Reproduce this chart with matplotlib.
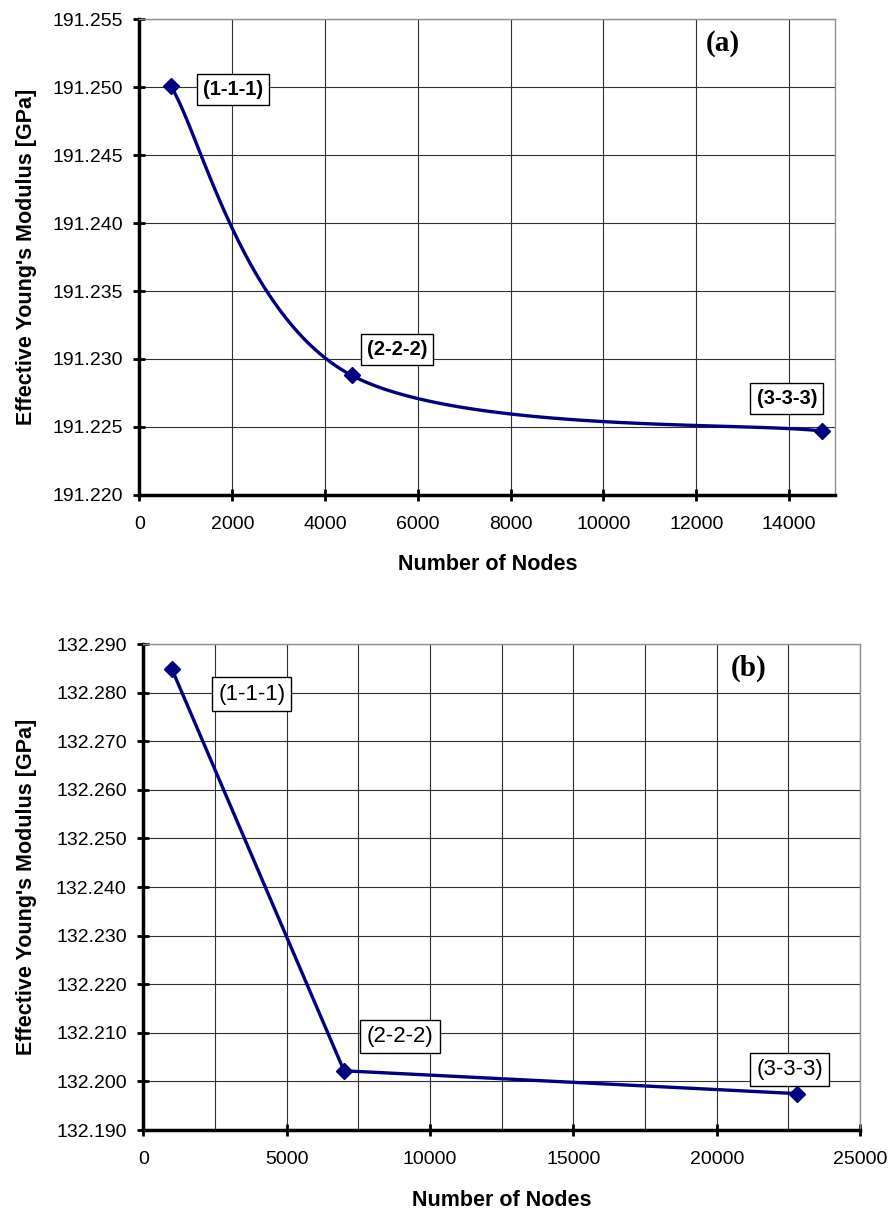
import numpy as np
import matplotlib
matplotlib.use('Agg')
import matplotlib.pyplot as plt
from matplotlib.ticker import MultipleLocator, FormatStrFormatter

plt.rcParams['font.family'] = ['Liberation Sans', 'DejaVu Sans']

# chart (a) data
nodes_a = [670, 4570, 14720]
E_a = [191.2501, 191.2288, 191.2247]
lab_a = ['(1-1-1)', '(2-2-2)', '(3-3-3)']
labpos_a = [(2010, 191.2498), (5550, 191.2307), (13950, 191.2271)]

# chart (b) data
nodes_b = [1000, 7000, 22800]
E_b = [132.2848, 132.2022, 132.1975]
lab_b = ['(1-1-1)', '(2-2-2)', '(3-3-3)']
labpos_b = [(3780, 132.2797), (8950, 132.2092), (22550, 132.2025)]

navy = '#000080'


def excel_smooth(x, y, n=60):
    # bezier smoothing like excel "smoothed line"
    P = np.column_stack([x, y]).astype(float)
    out = []
    for i in range(len(P) - 1):
        p0 = P[max(i - 1, 0)]
        p1 = P[i]
        p2 = P[i + 1]
        p3 = P[min(i + 2, len(P) - 1)]
        c1 = p1 + (p2 - p0) / 6.0
        c2 = p2 - (p3 - p1) / 6.0
        t = np.linspace(0, 1, n)[:, None]
        seg = ((1 - t) ** 3) * p1 + 3 * ((1 - t) ** 2) * t * c1 + 3 * (1 - t) * t ** 2 * c2 + t ** 3 * p2
        out.append(seg)
    out = np.vstack(out)
    return out[:, 0], out[:, 1]


def style_axes(ax):
    ax.grid(True, which='both', color='#303030', lw=0.8)
    ax.set_axisbelow(True)
    for s in ['top', 'right']:
        ax.spines[s].set_color('#909090')
        ax.spines[s].set_linewidth(1.0)
    for s in ['left', 'bottom']:
        ax.spines[s].set_color('black')
        ax.spines[s].set_linewidth(2.5)
    ax.tick_params(axis='both', which='major', direction='inout', length=8, width=2.0,
                   labelsize=14)
    ax.tick_params(axis='x', which='major', pad=11)
    ax.tick_params(axis='y', which='major', pad=8)
    ax.tick_params(axis='both', which='minor', length=0)


fig = plt.figure(figsize=(8.93, 12.12), dpi=100)

# ---------------- (a)
ax1 = fig.add_axes([0.1562, 0.5916, 0.7794, 0.3927])
xs, ys = excel_smooth(nodes_a, E_a)
ax1.plot(xs, ys, color=navy, lw=2.4, zorder=3)
ax1.plot(nodes_a, E_a, ls='none', marker='D', ms=8, color=navy, zorder=4)
ax1.set_xlim(0, 15000)
ax1.set_ylim(191.220, 191.255)
ax1.xaxis.set_major_locator(MultipleLocator(2000))
ax1.yaxis.set_major_locator(MultipleLocator(0.005))
ax1.yaxis.set_major_formatter(FormatStrFormatter('%.3f'))
style_axes(ax1)
for t, (px, py) in zip(lab_a, labpos_a):
    ax1.text(px, py, t, fontsize=14.5, fontweight='bold', ha='center', va='center', zorder=5,
             bbox=dict(boxstyle='square,pad=0.3', fc='white', ec='black', lw=1.0))
ax1.text(12570, 191.2532, '(a)', fontsize=21, fontweight='bold', family='Liberation Serif',
         ha='center', va='center')
ax1.set_xlabel('Number of Nodes', fontsize=15.5, fontweight='bold')
ax1.set_ylabel("Effective Young's Modulus [GPa]", fontsize=15.5, fontweight='bold')
ax1.xaxis.set_label_coords(0.5, -0.124)
ax1.yaxis.set_label_coords(-0.147, 0.5)

# ---------------- (b)
ax2 = fig.add_axes([0.1605, 0.0676, 0.8026, 0.4010])
ax2.plot(nodes_b, E_b, color=navy, lw=2.4, marker='D', ms=8, zorder=3)
ax2.set_xlim(0, 25000)
ax2.set_ylim(132.190, 132.290)
ax2.xaxis.set_major_locator(MultipleLocator(5000))
ax2.xaxis.set_minor_locator(MultipleLocator(2500))
ax2.yaxis.set_major_locator(MultipleLocator(0.01))
ax2.yaxis.set_major_formatter(FormatStrFormatter('%.3f'))
style_axes(ax2)
for t, (px, py) in zip(lab_b, labpos_b):
    ax2.text(px, py, t, fontsize=16, ha='center', va='center', zorder=5,
             bbox=dict(boxstyle='square,pad=0.28', fc='white', ec='black', lw=1.0))
ax2.text(21130, 132.2851, '(b)', fontsize=21, fontweight='bold', family='Liberation Serif',
         ha='center', va='center')
ax2.set_xlabel('Number of Nodes', fontsize=15.5, fontweight='bold')
ax2.set_ylabel("Effective Young's Modulus [GPa]", fontsize=15.5, fontweight='bold')
ax2.xaxis.set_label_coords(0.5, -0.123)
ax2.yaxis.set_label_coords(-0.148, 0.5)

fig.savefig('out.png', dpi=100)
